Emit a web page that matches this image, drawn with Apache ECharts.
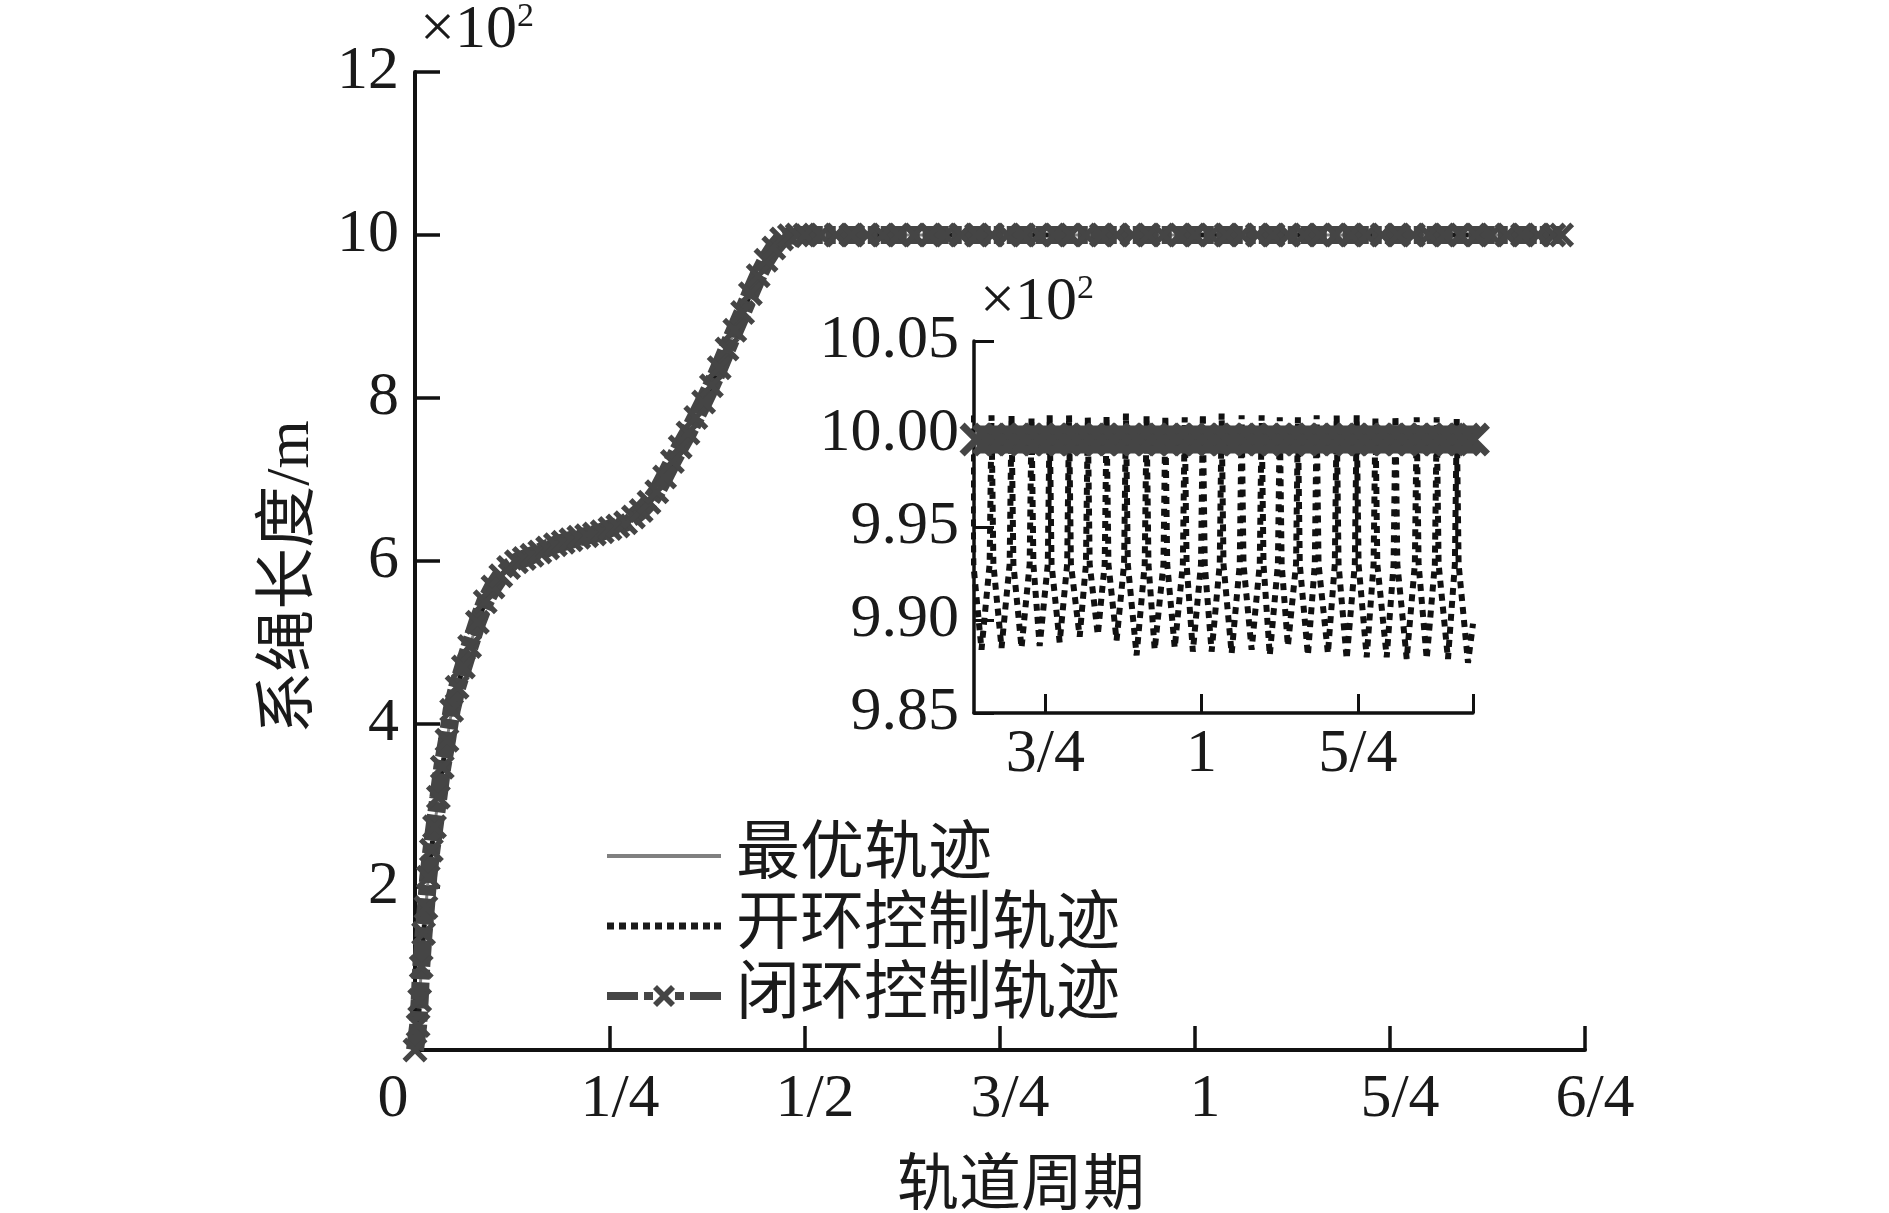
<!DOCTYPE html>
<html>
<head>
<meta charset="utf-8">
<script src="https://cdn.jsdelivr.net/npm/echarts@6/dist/echarts.min.js"></script>
<style>
  html, body { margin: 0; padding: 0; background: #fff; }
  #chart { width: 1889px; height: 1213px; }
</style>
</head>
<body>
<div id="chart"></div>
<script>
// 主图：时间（轨道周期）与系绳长度（×10^2 m）
const mainT = [0, 0.004, 0.006, 0.008, 0.011, 0.014, 0.017, 0.021, 0.025, 0.030, 0.035, 0.041, 0.047, 0.054, 0.062, 0.070,
  0.08, 0.09, 0.10, 0.11, 0.12, 0.13, 0.14, 0.15, 0.16, 0.17, 0.18, 0.19, 0.20, 0.21, 0.22, 0.23, 0.24, 0.25,
  0.26, 0.27, 0.28, 0.29, 0.30, 0.31, 0.32, 0.33, 0.34, 0.35, 0.36, 0.37, 0.38, 0.39, 0.40, 0.41, 0.42, 0.43,
  0.44, 0.45, 0.46, 0.47, 0.48, 0.49, 0.50];
const mainLen = [0, 0.30, 0.61, 1.02, 1.43, 1.75, 2.12, 2.45, 2.74, 3.10, 3.47, 3.80, 4.17, 4.45, 4.70, 4.95,
  5.25, 5.50, 5.68, 5.82, 5.92, 5.99, 6.03, 6.07, 6.11, 6.16, 6.20, 6.23, 6.26, 6.29, 6.31, 6.33, 6.36, 6.40,
  6.43, 6.47, 6.54, 6.62, 6.72, 6.85, 7.03, 7.22, 7.40, 7.57, 7.76, 7.95, 8.15, 8.37, 8.60, 8.83, 9.05, 9.28,
  9.50, 9.69, 9.84, 9.95, 9.99, 10.00, 10.00];
// 平稳段
const plateauT = [0.52, 0.54, 0.56, 0.58, 0.60, 0.62, 0.64, 0.66, 0.68, 0.70, 0.72, 0.74, 0.76, 0.78, 0.80,
  0.82, 0.84, 0.86, 0.88, 0.90, 0.92, 0.94, 0.96, 0.98, 1.00, 1.02, 1.04, 1.06, 1.08, 1.10, 1.12, 1.14, 1.16,
  1.18, 1.20, 1.22, 1.24, 1.26, 1.28, 1.30, 1.32, 1.34, 1.36, 1.38, 1.40, 1.42, 1.44, 1.46, 1.47];
const plateauLen = [10, 10, 10, 10, 10, 10, 10, 10, 10, 10, 10, 10, 10, 10, 10, 10, 10, 10, 10, 10, 10, 10, 10,
  10, 10, 10, 10, 10, 10, 10, 10, 10, 10, 10, 10, 10, 10, 10, 10, 10, 10, 10, 10, 10, 10, 10, 10, 10, 10];

// 局部放大图：闭环
const insetT = [0.64, 0.66, 0.68, 0.70, 0.72, 0.74, 0.76, 0.78, 0.80, 0.82, 0.84, 0.86, 0.88, 0.90, 0.92, 0.94,
  0.96, 0.98, 1.00, 1.02, 1.04, 1.06, 1.08, 1.10, 1.12, 1.14, 1.16, 1.18, 1.20, 1.22, 1.24, 1.26, 1.28, 1.30,
  1.32, 1.34, 1.36, 1.38, 1.40, 1.42, 1.434];
const insetClosedLen = [9.997, 9.997, 9.997, 9.997, 9.997, 9.997, 9.997, 9.997, 9.997, 9.997, 9.997, 9.997,
  9.997, 9.997, 9.997, 9.997, 9.997, 9.997, 9.997, 9.997, 9.997, 9.997, 9.997, 9.997, 9.997, 9.997, 9.997,
  9.997, 9.997, 9.997, 9.997, 9.997, 9.997, 9.997, 9.997, 9.997, 9.997, 9.997, 9.997, 9.997, 9.997];

// 局部放大图：开环（振荡）
const openT = [0.632, 0.635, 0.648,
  0.661, 0.664, 0.667, 0.680,
  0.693, 0.696, 0.699, 0.712,
  0.725, 0.728, 0.731, 0.741,
  0.754, 0.757, 0.760, 0.773,
  0.785, 0.788, 0.791, 0.805,
  0.815, 0.818, 0.821, 0.834,
  0.845, 0.848, 0.851, 0.864,
  0.876, 0.879, 0.882, 0.896,
  0.909, 0.912, 0.915, 0.925,
  0.939, 0.942, 0.945, 0.957,
  0.970, 0.973, 0.976, 0.986,
  0.999, 1.002, 1.005, 1.016,
  1.029, 1.032, 1.035, 1.048,
  1.061, 1.064, 1.067, 1.080,
  1.093, 1.096, 1.099, 1.109,
  1.122, 1.125, 1.128, 1.138,
  1.151, 1.154, 1.157, 1.170,
  1.181, 1.184, 1.187, 1.202,
  1.213, 1.216, 1.219, 1.232,
  1.245, 1.248, 1.251, 1.264,
  1.275, 1.278, 1.281, 1.296,
  1.307, 1.310, 1.313, 1.328,
  1.341, 1.344, 1.347, 1.360,
  1.373, 1.376, 1.379, 1.394,
  1.405, 1.408, 1.411, 1.426,
  1.434];
const openLen = [10.010, 9.930, 9.884,
  9.930, 10.010, 9.930, 9.885,
  9.930, 10.010, 9.930, 9.885,
  9.930, 10.009, 9.930, 9.886,
  9.930, 10.010, 9.930, 9.888,
  9.930, 10.010, 9.930, 9.891,
  9.930, 10.009, 9.930, 9.892,
  9.930, 10.010, 9.930, 9.889,
  9.930, 10.011, 9.930, 9.881,
  9.930, 10.010, 9.930, 9.884,
  9.930, 10.010, 9.930, 9.885,
  9.930, 10.009, 9.930, 9.883,
  9.930, 10.011, 9.930, 9.883,
  9.930, 10.011, 9.930, 9.882,
  9.930, 10.010, 9.930, 9.884,
  9.930, 10.010, 9.930, 9.881,
  9.930, 10.009, 9.930, 9.886,
  9.930, 10.009, 9.930, 9.881,
  9.930, 10.010, 9.930, 9.882,
  9.930, 10.010, 9.930, 9.879,
  9.930, 10.010, 9.930, 9.880,
  9.930, 10.009, 9.930, 9.880,
  9.930, 10.010, 9.930, 9.879,
  9.930, 10.009, 9.930, 9.879,
  9.930, 10.009, 9.930, 9.879,
  9.930, 10.008, 9.930, 9.877,
  9.898];

// 刻度
const mainTickVals = [0, 0.25, 0.5, 0.75, 1, 1.25, 1.5];
const mainTickLabels = ['0', '1/4', '1/2', '3/4', '1', '5/4', '6/4'];
const insetTickVals = [0.75, 1, 1.25];
const insetTickLabels = ['3/4', '1', '5/4'];
const insetTickMarks = [0.75, 1, 1.25, 1.434];

const FONT = '"Liberation Serif", "Noto Sans CJK SC", serif';
const TXT = '#1a1a1a';
const xMark = 'path://M3,0L10,7L17,0L20,3L13,10L20,17L17,20L10,13L3,20L0,17L7,10L0,3Z';

// 图例图标（114 x 22）
const corners = 'M0,0h0.01v0.01h-0.01zM113.99,21.99h0.01v0.01h-0.01z';
const iconSolid = 'path://' + corners + 'M0,9h114v4h-114z';
const iconDotted = 'path://' + corners +
  'M0,7.5h7v7h-7zM12,7.5h7v7h-7zM24,7.5h7v7h-7zM36,7.5h7v7h-7zM48,7.5h7v7h-7z' +
  'M60,7.5h7v7h-7zM72,7.5h7v7h-7zM84,7.5h7v7h-7zM96,7.5h7v7h-7zM107,7.5h7v7h-7z';
const iconDashX = 'path://' + corners +
  'M0,7h31v8h-31zM37,7h9v8h-9zM68,7h9v8h-9zM83,7h31v8h-31z' +
  'M50,0L57,7L64,0L68,4L61,11L68,18L64,22L57,15L50,22L46,18L53,11L46,4Z';

const zip = (xs, ys) => xs.map((x, i) => [x, ys[i]]);
const mainData = zip(mainT.concat(plateauT), mainLen.concat(plateauLen));

function pickLabel(vals, labels, v) {
  const i = vals.findIndex((d) => Math.abs(d - v) < 1e-6);
  return i < 0 ? '' : labels[i];
}

const numLabel = { fontFamily: FONT, fontSize: 62, color: TXT, fontWeight: 'normal' };
const axisLine = { lineStyle: { color: '#111', width: 4 } };
const sciRich = {
  a: { fontFamily: FONT, fontSize: 62, color: TXT, fontWeight: 'normal' },
  b: { fontFamily: FONT, fontSize: 34, color: TXT, fontWeight: 'normal', verticalAlign: 'top' }
};

const chart = echarts.init(document.getElementById('chart'));
chart.setOption({
  animation: false,
  backgroundColor: '#fff',
  title: [
    { text: '{a|×10}{b|2}', left: 420, top: 0, padding: 0, textStyle: { fontWeight: 'normal', rich: sciRich } },
    { text: '{a|×10}{b|2}', left: 980, top: 272, padding: 0, textStyle: { fontWeight: 'normal', rich: sciRich } }
  ],
  legend: {
    orient: 'vertical', left: 607, top: 824, padding: 0, itemGap: 6,
    itemWidth: 114, itemHeight: 22, symbolKeepAspect: false, selectedMode: false,
    itemStyle: { borderWidth: 0 },
    textStyle: { fontFamily: FONT, fontSize: 64, color: TXT, lineHeight: 64, padding: [0, 0, 0, 10] },
    data: [
      { name: '最优轨迹', icon: iconSolid },
      { name: '开环控制轨迹', icon: iconDotted },
      { name: '闭环控制轨迹', icon: iconDashX }
    ]
  },
  grid: [
    { left: 415, top: 72, width: 1170, height: 978, outerBoundsMode: 'none' },
    { left: 974, top: 341, width: 499, height: 372, outerBoundsMode: 'none' }
  ],
  xAxis: [
    {
      type: 'value', gridIndex: 0, min: 0, max: 1.5, interval: 0.25,
      name: '轨道周期', nameLocation: 'middle', nameGap: 108,
      nameTextStyle: { fontFamily: FONT, fontSize: 62, color: TXT, padding: [0, 0, 0, 42] },
      axisLine: axisLine,
      axisTick: { inside: true, length: 24, lineStyle: { color: '#111', width: 3.5 } },
      axisLabel: {
        margin: 19,
        formatter: (v) => {
          const s = pickLabel(mainTickVals, mainTickLabels, v);
          return v === 0 ? '{z|' + s + '}' : '{n|' + s + '}';
        },
        rich: {
          z: Object.assign({ padding: [0, 44, 0, 0] }, numLabel),
          n: Object.assign({ padding: [0, 0, 0, 20] }, numLabel)
        }
      },
      splitLine: { show: false }
    },
    {
      type: 'value', gridIndex: 1, min: 0.636, max: 1.434,
      axisLine: { lineStyle: { color: '#111', width: 3.5 } },
      axisTick: { inside: true, length: 19, customValues: insetTickMarks, lineStyle: { color: '#111', width: 3 } },
      axisLabel: Object.assign({
        margin: 11, customValues: insetTickVals,
        formatter: (v) => pickLabel(insetTickVals, insetTickLabels, v)
      }, numLabel),
      splitLine: { show: false }
    }
  ],
  yAxis: [
    {
      type: 'value', gridIndex: 0, min: 0, max: 12, interval: 2,
      name: '系绳长度/m', nameLocation: 'middle', nameGap: 92,
      nameTextStyle: { fontFamily: FONT, fontSize: 62, color: TXT, padding: [0, 32, 0, 0] },
      axisLine: axisLine,
      axisTick: { inside: true, length: 25, lineStyle: { color: '#111', width: 3.5 } },
      axisLabel: Object.assign({ margin: 16, formatter: (v) => (v === 0 ? '' : String(v)) }, numLabel),
      splitLine: { show: false }
    },
    {
      type: 'value', gridIndex: 1, min: 9.85, max: 10.05, interval: 0.05,
      axisLine: { lineStyle: { color: '#111', width: 3.5 } },
      axisTick: { inside: true, length: 20, lineStyle: { color: '#111', width: 3 } },
      axisLabel: Object.assign({ margin: 15, formatter: (v) => v.toFixed(2) }, numLabel),
      splitLine: { show: false }
    }
  ],
  series: [
    {
      name: '最优轨迹', type: 'line', xAxisIndex: 0, yAxisIndex: 0, data: mainData,
      symbol: 'none', lineStyle: { color: '#808080', width: 3 }, itemStyle: { color: '#808080' }
    },
    {
      name: '开环控制轨迹', type: 'line', xAxisIndex: 0, yAxisIndex: 0, data: mainData,
      symbol: 'none', lineStyle: { color: '#1a1a1a', width: 5, type: [6, 6] }, itemStyle: { color: '#1a1a1a' }
    },
    {
      name: '闭环控制轨迹', type: 'line', xAxisIndex: 0, yAxisIndex: 0, data: mainData,
      symbol: xMark, symbolSize: 25, showAllSymbol: true,
      lineStyle: { color: '#454545', width: 18, type: [26, 3, 10, 3] }, itemStyle: { color: '#454545' }
    },
    {
      name: '最优轨迹', type: 'line', xAxisIndex: 1, yAxisIndex: 1, data: mainData,
      symbol: 'none', lineStyle: { color: '#808080', width: 3 }
    },
    {
      name: '开环控制轨迹', type: 'line', xAxisIndex: 1, yAxisIndex: 1, data: zip(openT, openLen),
      symbol: 'none', lineStyle: { color: '#111', width: 6, type: [7, 6] }
    },
    {
      name: '闭环控制轨迹', type: 'line', xAxisIndex: 1, yAxisIndex: 1, data: zip(insetT, insetClosedLen),
      symbol: xMark, symbolSize: 34, showAllSymbol: true,
      lineStyle: { color: '#454545', width: 28 }, itemStyle: { color: '#454545' }
    }
  ]
});
</script>
</body>
</html>
